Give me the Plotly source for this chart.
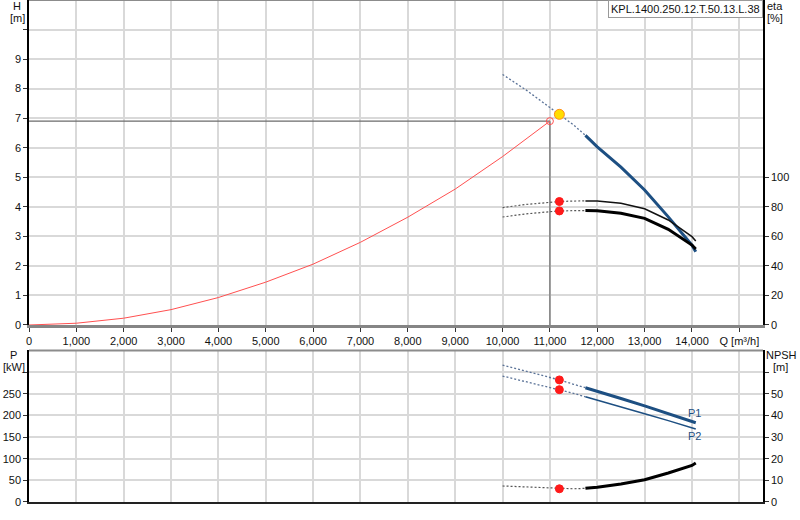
import plotly.graph_objects as go

# flow points (m3/h): extrapolated part (dotted) and allowed range (solid)
q_ext = [10000, 10500, 11000, 11200, 11500, 11750]
q_main = [11750, 12000, 12500, 13000, 13500, 14000, 14080]

# head H [m]
h_ext = [8.48, 7.95, 7.36, 7.13, 6.77, 6.42]
h_main = [6.42, 6.03, 5.34, 4.57, 3.66, 2.70, 2.48]

# efficiencies eta [%]
eta_hyd_ext = [79.5, 81.6, 83.0, 83.6, 83.9, 84.0]
eta_hyd_main = [84.0, 83.9, 82.4, 78.7, 71.1, 59.8, 56.9]
eta_ext = [73.1, 75.2, 76.7, 77.2, 77.4, 77.5]
eta_main = [77.5, 77.4, 75.6, 72.2, 64.8, 54.1, 51.4]

# power P [kW]
p1_ext = [316, 302, 288, 282, 272, 264]
p1_main = [264, 256, 239, 222, 204, 186, 183]
p2_ext = [291, 278, 265, 259.5, 251, 243]
p2_main = [243, 235.5, 220, 204, 188, 171, 168.5]

# NPSH [m]
npsh_ext = [7.4, 6.9, 6.4, 6.1, 6.1, 6.3]
npsh_main = [6.3, 6.8, 8.3, 10.3, 13.4, 16.9, 18.0]

# system curve
q_sys = [0, 1000, 2000, 3000, 4000, 5000, 6000, 7000, 8000, 9000, 10000, 11000]
h_sys = [0, 0.06, 0.23, 0.52, 0.93, 1.45, 2.06, 2.80, 3.65, 4.60, 5.70, 6.90]

# duty point and operating point
duty_q, duty_h = 11000, 6.9
op_q, op_h = 11200, 7.13
op_eta_hyd, op_eta = 83.6, 77.2
op_p1, op_p2, op_npsh = 282, 259.5, 6.1

# ticks
x_ticks = list(range(0, 16000, 1000))
x_labels = [f"{v:,}" for v in x_ticks[:-1]] + ["Q [m³/h]"]
h_ticks = list(range(0, 11))
eta_ticks = [0, 20, 40, 60, 80, 100]
p_ticks = [0, 50, 100, 150, 200, 250, 300]
npsh_ticks = [0, 10, 20, 30, 40, 50, 60]

model_name = "KPL.1400.250.12.T.50.13.L.38"

FONT = "Arial, Liberation Sans, sans-serif"
BLUE = "#1d4f82"
BLUE_DOT = "#5b7398"
GRID = "#d9d9d9"


def line(x, y, xa, ya, color, width, dash=None):
    return go.Scatter(x=x, y=y, xaxis=xa, yaxis=ya, mode="lines",
                      line=dict(color=color, width=width, dash=dash),
                      hoverinfo="skip", showlegend=False)


def dot(x, y, xa, ya, color="#ff1a1a", size=8, symbol="circle", border=None):
    return go.Scatter(x=[x], y=[y], xaxis=xa, yaxis=ya, mode="markers",
                      marker=dict(color=color, size=size, symbol=symbol,
                                  line=dict(color=border or color, width=1)),
                      hoverinfo="skip", showlegend=False)


fig = go.Figure()

# --- top panel: head, system curve, efficiencies
fig.add_trace(line([0, duty_q], [duty_h, duty_h], "x", "y", "#6b6b6b", 1.2))
fig.add_trace(line([duty_q, duty_q], [0, duty_h], "x", "y", "#6b6b6b", 1.2))
fig.add_trace(line(q_sys, h_sys, "x", "y", "#ff5050", 1))
fig.add_trace(line(q_ext, h_ext, "x", "y", BLUE_DOT, 1.3, "2px,2px"))
fig.add_trace(line(q_main, h_main, "x", "y", BLUE, 3))

fig.add_trace(line(q_ext, eta_hyd_ext, "x", "y2", "#555555", 1.2, "2px,2px"))
fig.add_trace(line(q_main, eta_hyd_main, "x", "y2", "#111111", 1.5))
fig.add_trace(line(q_ext, eta_ext, "x", "y2", "#555555", 1.2, "2px,2px"))
fig.add_trace(line(q_main, eta_main, "x", "y2", "#000000", 3))

fig.add_trace(dot(duty_q, duty_h, "x", "y", color="#ff5050", size=7, symbol="circle-open"))
fig.add_trace(dot(op_q, op_h, "x", "y", color="#ffdd00", size=10, border="#ff8c1a"))
fig.add_trace(dot(op_q, op_eta_hyd, "x", "y2"))
fig.add_trace(dot(op_q, op_eta, "x", "y2"))

# --- bottom panel: power and NPSH
fig.add_trace(line(q_ext, p1_ext, "x2", "y3", BLUE_DOT, 1.3, "2px,2px"))
fig.add_trace(line(q_main, p1_main, "x2", "y3", BLUE, 3))
fig.add_trace(line(q_ext, p2_ext, "x2", "y3", BLUE_DOT, 1.3, "2px,2px"))
fig.add_trace(line(q_main, p2_main, "x2", "y3", BLUE, 1.5))
fig.add_trace(line(q_ext, npsh_ext, "x2", "y4", "#555555", 1.2, "2px,2px"))
fig.add_trace(line(q_main, npsh_main, "x2", "y4", "#000000", 3))

fig.add_trace(dot(op_q, op_p1, "x2", "y3"))
fig.add_trace(dot(op_q, op_p2, "x2", "y3"))
fig.add_trace(dot(op_q, op_npsh, "x2", "y4"))

tick_font = dict(family=FONT, size=11, color="#111111")
axis_common = dict(showgrid=True, gridcolor=GRID, gridwidth=1.5, zeroline=False,
                   ticks="outside", ticklen=4, tickcolor="#333333", tickfont=tick_font,
                   automargin=False)

fig.update_layout(
    width=800, height=520,
    margin=dict(l=29, r=37, t=0, b=18, autoexpand=False),
    paper_bgcolor="white", plot_bgcolor="white",
    font=dict(family=FONT, size=11, color="#111111"),
    xaxis=dict(axis_common, range=[0, 15500], domain=[0, 1], anchor="y",
               tickvals=x_ticks, ticktext=x_labels,
               showline=True, linecolor="#858585", linewidth=2.5),
    yaxis=dict(axis_common, range=[0, 11], domain=[0.3526, 1],
               tickvals=h_ticks, ticktext=[str(v) for v in h_ticks[:-1]] + [""],
               showline=True, linecolor="#000000", linewidth=1.5),
    yaxis2=dict(axis_common, range=[0, 220], overlaying="y", side="right", showgrid=False,
                tickvals=eta_ticks, showline=True, linecolor="#000000", linewidth=1.5),
    xaxis2=dict(axis_common, range=[0, 15500], domain=[0, 1], anchor="y3",
                tickvals=x_ticks, showticklabels=False, ticks="",
                showline=True, linecolor="#222222", linewidth=1.5),
    yaxis3=dict(axis_common, range=[0, 350], domain=[0, 0.3018], anchor="x2",
                tickvals=p_ticks, ticktext=[str(v) for v in p_ticks[:-1]] + [""],
                showline=True, linecolor="#000000", linewidth=1.5),
    yaxis4=dict(axis_common, range=[0, 70], overlaying="y3", side="right", anchor="x2",
                showgrid=False, tickvals=npsh_ticks,
                ticktext=[str(v) for v in npsh_ticks[:-1]] + [""],
                showline=True, linecolor="#000000", linewidth=1.5),
)

# grey top borders of both panels
for yref in ["y domain", "y3 domain"]:
    xref = "x domain" if yref == "y domain" else "x2 domain"
    fig.add_shape(type="line", xref=xref, yref=yref, x0=0, x1=1, y0=1, y1=1,
                  line=dict(color="#8c8c8c", width=2), layer="above")


def label(text, px, py, color="#111111"):
    # px, py are pixel positions in the 800x520 page
    fig.add_annotation(text=text, xref="paper", yref="paper",
                       x=(px - 29) / 734, y=(502 - py) / 502,
                       showarrow=False, xanchor="center", yanchor="middle",
                       font=dict(family=FONT, size=11, color=color))


label("H", 17, 6)
label("[m]", 17, 18)
label("eta", 775, 6)
label("[%]", 775, 18)
label("P", 13, 355)
label("[kW]", 14, 367)
label("NPSH", 781, 355)
label("[m]", 780, 367)

fig.add_annotation(text="P1", x=14050, y=206, xref="x2", yref="y3", showarrow=False,
                   font=dict(family=FONT, size=11, color=BLUE))
fig.add_annotation(text="P2", x=14050, y=153, xref="x2", yref="y3", showarrow=False,
                   font=dict(family=FONT, size=11, color=BLUE))

fig.add_annotation(text=model_name, xref="paper", yref="paper", x=1, y=1,
                   xanchor="right", yanchor="top", showarrow=False,
                   bgcolor="white", bordercolor="#9a9a9a", borderwidth=1, borderpad=2,
                   font=dict(family=FONT, size=11, color="#111111"))

# the page body has a default 8px margin; drop it so the chart sits at 0,0
fig.write_html("out.html", config={"displayModeBar": False},
               post_script="document.body.style.margin='0';document.body.style.overflow='hidden';")
